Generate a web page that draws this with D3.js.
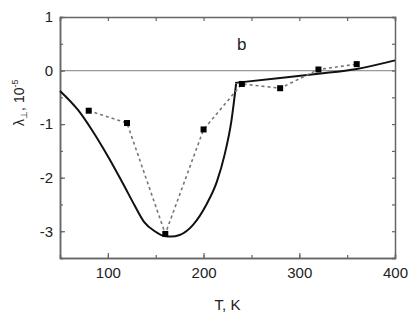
<!DOCTYPE html>
<html>
<head>
<meta charset="utf-8">
<script src="https://cdn.jsdelivr.net/npm/d3@7"></script>
<style>
  body { margin: 0; background: #fff; }
  text { font-family: Arial, "Liberation Sans", sans-serif; fill: #222; }
</style>
</head>
<body>
<div id="chart"></div>
<script>
// measured points (squares, dashed)
const measT = [80, 120, 160, 200, 240, 280, 320, 360];
const measL = [-0.75, -0.98, -3.05, -1.1, -0.25, -0.33, 0.02, 0.12];

// calculated curve, low temperature branch
const lowT = [50, 69, 83, 100, 117, 128, 138, 149, 159, 166, 175, 189, 203, 214, 222, 229, 234];
const lowL = [-0.38, -0.74, -1.1, -1.6, -2.15, -2.52, -2.83, -3.0, -3.09, -3.1, -3.07, -2.88, -2.5, -2.07, -1.57, -0.95, -0.25];

// calculated curve, high temperature branch
const highT = [233, 280, 320, 360, 400];
const highL = [-0.23, -0.14, -0.06, 0.03, 0.19];

const xTicks = [100, 200, 300, 400];
const yTicks = [1, 0, -1, -2, -3];

const W = 413, H = 322;
const margin = {top: 17, right: 18, bottom: 64, left: 60};
const w = W - margin.left - margin.right;
const h = H - margin.top - margin.bottom;

const svg = d3.select("#chart").append("svg")
    .attr("width", W).attr("height", H);
const g = svg.append("g")
    .attr("transform", `translate(${margin.left},${margin.top})`);

const x = d3.scaleLinear().domain([50, 400]).range([0, w]);
const y = d3.scaleLinear().domain([-3.5, 1]).range([h, 0]);

// zero line
g.append("line")
    .attr("x1", 0).attr("x2", w)
    .attr("y1", y(0)).attr("y2", y(0))
    .attr("stroke", "#999").attr("stroke-width", 1.2);

// axes with inward ticks
const frame = "#666";
function styleAxis(sel) {
    sel.select(".domain").attr("stroke", frame).attr("stroke-width", 1.5);
    sel.selectAll(".tick line").attr("stroke", frame).attr("stroke-width", 1.2);
    sel.selectAll("text").style("font-size", "15px").attr("fill", "#222");
}
const xMinor = d3.range(50, 401, 50);
const yMinor = d3.range(-3.5, 1.01, 0.5);

g.append("g").attr("transform", `translate(0,${h})`)
    .call(d3.axisBottom(x).tickValues(xMinor).tickSize(-3).tickFormat(""))
    .call(styleAxis);
g.append("g").attr("transform", `translate(0,${h})`)
    .call(d3.axisBottom(x).tickValues(xTicks).tickSize(-5).tickPadding(9).tickSizeOuter(0))
    .call(styleAxis);
g.append("g")
    .call(d3.axisTop(x).tickValues(xMinor).tickSize(-4).tickFormat(""))
    .call(styleAxis);
g.append("g")
    .call(d3.axisLeft(y).tickValues(yMinor).tickSize(-3).tickFormat(""))
    .call(styleAxis);
g.append("g")
    .call(d3.axisLeft(y).tickValues(yTicks).tickSize(-5).tickPadding(7).tickSizeOuter(0)
        .tickFormat(d => d < 0 ? "-" + Math.abs(d) : d))
    .call(styleAxis);
g.append("g").attr("transform", `translate(${w},0)`)
    .call(d3.axisRight(y).tickValues(yMinor).tickSize(-3).tickFormat(""))
    .call(styleAxis);

// calculated curves
const line = d3.line()
    .x(d => x(d[0])).y(d => y(d[1]))
    .curve(d3.curveMonotoneX);
g.append("path")
    .datum(d3.zip(lowT, lowL))
    .attr("fill", "none").attr("stroke", "#111").attr("stroke-width", 2)
    .attr("d", line);
g.append("path")
    .datum(d3.zip(highT, highL))
    .attr("fill", "none").attr("stroke", "#111").attr("stroke-width", 2)
    .attr("d", line);

// measured points
const meas = d3.zip(measT, measL);
g.append("path")
    .datum(meas)
    .attr("fill", "none").attr("stroke", "#777").attr("stroke-width", 1.6)
    .attr("stroke-dasharray", "3,3")
    .attr("d", d3.line().x(d => x(d[0])).y(d => y(d[1])));
g.selectAll("rect.pt")
    .data(meas)
    .enter().append("rect")
    .attr("class", "pt")
    .attr("x", d => x(d[0]) - 3).attr("y", d => y(d[1]) - 3)
    .attr("width", 6).attr("height", 6)
    .attr("fill", "#000");

// panel label
g.append("text")
    .attr("x", x(240)).attr("y", y(0.5) + 6)
    .attr("text-anchor", "middle")
    .style("font-size", "17px")
    .text("b");

// axis titles
svg.append("text")
    .attr("x", margin.left + w / 2).attr("y", 310)
    .attr("text-anchor", "middle")
    .style("font-size", "15px")
    .text("T, K");

const yl = svg.append("text")
    .attr("transform", `translate(24,${margin.top + y(-0.6)}) rotate(-90)`)
    .attr("text-anchor", "middle")
    .style("font-size", "14px");
yl.append("tspan").text("λ");
yl.append("tspan").attr("dy", 3).style("font-size", "9px").text("⊥");
yl.append("tspan").attr("dy", -3).text(", 10");
yl.append("tspan").attr("dy", -6).style("font-size", "9px").text("-5");
</script>
</body>
</html>
